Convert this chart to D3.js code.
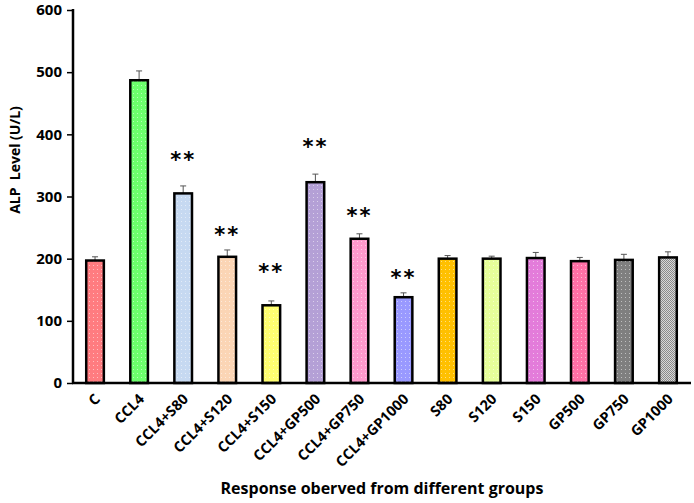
<!DOCTYPE html>
<html><head><meta charset="utf-8">
<script src="https://cdn.jsdelivr.net/npm/d3@7"></script>
<style>body{margin:0;background:#fff}svg{display:block}</style>
</head><body>
<svg id="c" width="694" height="503"></svg>
<script>
const categories = ["C","CCL4","CCL4+S80","CCL4+S120","CCL4+S150","CCL4+GP500","CCL4+GP750","CCL4+GP1000","S80","S120","S150","GP500","GP750","GP1000"];
const values = [197,487,305,203,125,323,232,138,200,200,201,196,198,202];
const errors = [6,15,12,11,7,13,8,7,5,4,9,6,9,9];
const colors = ["#FF7C80","#6CFF6C","#C6D9F1","#FBD5B5","#FFFF70","#B4A0D6","#FF99CC","#9999FF","#FFC000","#E6FF99","#E37CDA","#FF70A6","#7F7F7F","#BFBFBF"];
const starLevels = [null,null,367,246,187,388,276,177,null,null,null,null,null,null];
const yTicks = [0,100,200,300,400,500,600];

const svg = d3.select("#c");
const font = "'Open Sans', 'Liberation Sans', sans-serif";
const x = d3.scaleBand().domain(categories).range([73,690]).paddingInner(0.6).paddingOuter(0.3);
const y = d3.scaleLinear().domain([0,600]).range([383,10]);

const defs = svg.append("defs");
colors.forEach((c,i)=>{
  const p = defs.append("pattern").attr("id","p"+i).attr("patternUnits","userSpaceOnUse")
    .attr("width",4).attr("height",4);
  p.append("rect").attr("width",4).attr("height",4).attr("fill",c);
  if (i === 13) {
    p.attr("width",2).attr("height",2);
    p.select("rect").attr("width",2).attr("height",2).attr("fill","#d8d8d8");
    p.append("rect").attr("width",1).attr("height",1).attr("fill","#8a8a8a");
    p.append("rect").attr("x",1).attr("y",1).attr("width",1).attr("height",1).attr("fill","#8a8a8a");
  } else {
    p.append("rect").attr("x",1).attr("y",1).attr("width",1).attr("height",1).attr("fill","#fff").attr("opacity",0.5);
  }
});

// y axis
const yAxis = svg.append("g").attr("transform","translate(73,0)")
  .call(d3.axisLeft(y).tickValues(yTicks).tickSize(6).tickPadding(5));
yAxis.select(".domain").attr("stroke","#000").attr("stroke-width",2.5).attr("d","M0,9V383");
yAxis.selectAll(".tick line").attr("stroke","#000").attr("stroke-width",1.5);
yAxis.selectAll(".tick text").attr("font-family",font).attr("font-weight","bold").attr("font-size",15).attr("fill","#000");

// bars
const g = svg.append("g");
categories.forEach((c,i)=>{
  const cx = x(c) + x.bandwidth()/2;
  g.append("line").attr("x1",cx).attr("x2",cx).attr("y1",y(values[i])).attr("y2",y(values[i]+errors[i]))
    .attr("stroke","#555").attr("stroke-width",1);
  g.append("line").attr("x1",cx-3).attr("x2",cx+3).attr("y1",y(values[i]+errors[i])).attr("y2",y(values[i]+errors[i]))
    .attr("stroke","#555").attr("stroke-width",1);
  g.append("rect").attr("x",x(c)).attr("y",y(values[i])).attr("width",x.bandwidth()).attr("height",y(0)-y(values[i]))
    .attr("fill","url(#p"+i+")").attr("stroke","#000").attr("stroke-width",2.5);
  if (starLevels[i] != null) {
    g.append("text").attr("x",cx).attr("y",y(starLevels[i])+12).attr("text-anchor","middle")
      .attr("font-family","'DejaVu Sans', sans-serif").attr("font-weight","bold").attr("font-size",21)
      .attr("letter-spacing",2).attr("fill","#000").text("**");
  }
});

// x axis
const xAxis = svg.append("g").attr("transform","translate(0,383)")
  .call(d3.axisBottom(x).tickSize(0).tickPadding(0));
xAxis.select(".domain").attr("stroke","#000").attr("stroke-width",2.5).attr("d","M72,0H691");
xAxis.selectAll(".tick text").attr("font-family",font).attr("font-weight","bold").attr("font-size",14.5).attr("fill","#000")
  .attr("text-anchor","end").attr("dy",0).attr("transform","translate(6,17) rotate(-45)");

// titles
svg.append("text").attr("transform","translate(20,160) rotate(-90)").attr("text-anchor","middle")
  .attr("font-family",font).attr("font-weight","bold").attr("font-size",14).attr("fill","#000")
  .attr("xml:space","preserve").text("ALP  Level (U/L)");
svg.append("text").attr("x",382).attr("y",494).attr("text-anchor","middle")
  .attr("font-family",font).attr("font-weight","bold").attr("font-size",16).attr("fill","#000")
  .text("Response oberved from different groups");
</script>
</body></html>
